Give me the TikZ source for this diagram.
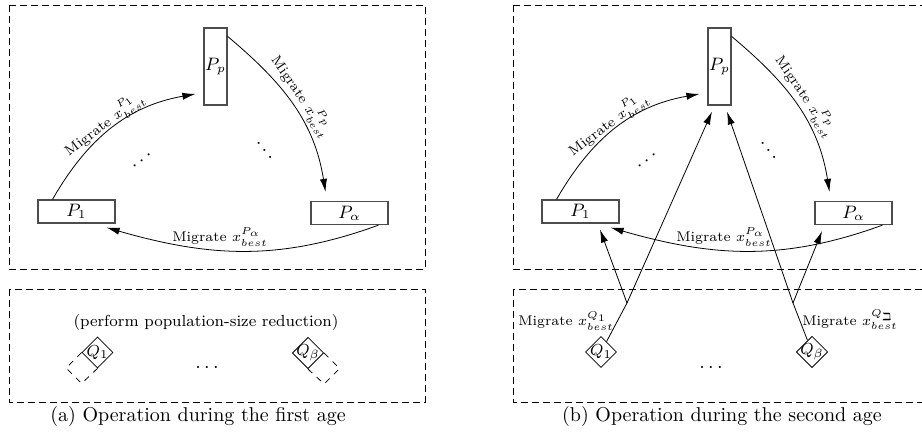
\documentclass[tikz,border=0pt]{standalone}
\usepackage{amssymb}
\usetikzlibrary{arrows.meta, shapes.geometric}

\begin{document}
\begin{tikzpicture}[
    x=0.5pt, y=-0.5pt,
    frame/.style={dash pattern=on 3.5pt off 2pt},
    pbox/.style={draw=black!70, semithick, inner sep=0pt, font=\small},
    hbox/.style={pbox, minimum width=38.5pt, minimum height=11.5pt},
    vbox/.style={pbox, minimum width=11.5pt, minimum height=38.5pt},
    qbox/.style={draw, diamond, aspect=1, minimum size=15.5pt, inner sep=-1pt, font=\footnotesize},
    arr/.style={-{Latex[length=6.5pt, width=3.6pt]}},
    lbl/.style={font=\scriptsize, inner sep=1pt},
  ]
  \useasboundingbox (0,0) rectangle (922,437);
  \clip (0,0) rectangle (922,437);

  % (a) first age
  \draw[frame] (9,5) rectangle (425,269);
  \draw[frame] (9,289) rectangle (425,402);

  \node[vbox] (a-pp) at (215.5,66.5) {$P_p$};
  \node[hbox] (a-p1) at (76.5,211.5) {$P_1$};
  \node[hbox] (a-pa) at (349.5,213) {$P_\alpha$};

  \draw[arr] ([xshift=-12pt]a-p1.north) to[out=60, in=190] ([xshift=-4pt, yshift=-13.75pt]a-pp.west);
  \draw[arr] ([yshift=-4.5pt]a-pp.north east) to[out=-40, in=99] ([xshift=-12pt, yshift=4.5pt]a-pa.north);
  \draw[arr] ([xshift=-5pt]a-pa.south east) to[out=-160, in=-16] ([xshift=-4.5pt, yshift=-2pt]a-p1.south east);

  \node[lbl, rotate=37] (a-l1) at (104,124) {Migrate $x^{P_1}_{best}$};
  \node[lbl, rotate=-56] (a-l2) at (302,96) {Migrate $x^{P_p}_{best}$};
  \node[lbl] (a-l3) at (220,237) {Migrate $x^{P_\alpha}_{best}$};

  \node[rotate=38] (a-dl) at (142,161) {$\cdots$};
  \node[rotate=-50] (a-dr) at (264,151) {$\cdots$};

  \node[font=\footnotesize] (a-red) at (206,323) {(perform population-size reduction)};
  \node[qbox] (a-q1) at (97.5,352.5) {$Q_1$};
  \node[qbox] (a-qb) at (308,353) {$Q_\beta$};
  \draw[dashed] (a-q1.west) -- ++(-15.5,15.5) -- ++(15.5,15.5) -- (a-q1.south);
  \draw[dashed] (a-qb.east) -- ++(15.5,15.5) -- ++(-15.5,15.5) -- (a-qb.south);
  \node (a-dots) at (207,368) {$\cdots$};

  \node (a-cap) at (198,417) {(a) Operation during the first age};

  % (b) second age
  \begin{scope}[xshift=252pt]
    \draw[frame] (9,5) rectangle (425,269);
    \draw[frame] (9,289) rectangle (425,402);

    \node[vbox] (b-pp) at (215.5,66.5) {$P_p$};
    \node[hbox] (b-p1) at (76.5,211.5) {$P_1$};
    \node[hbox] (b-pa) at (349.5,213) {$P_\alpha$};

    \draw[arr] ([xshift=-12pt]b-p1.north) to[out=60, in=190] ([xshift=-4pt, yshift=-13.75pt]b-pp.west);
    \draw[arr] ([yshift=-4.5pt]b-pp.north east) to[out=-40, in=99] ([xshift=-12pt, yshift=4.5pt]b-pa.north);
    \draw[arr] ([xshift=-5pt]b-pa.south east) to[out=-160, in=-16] ([xshift=-4.5pt, yshift=-2pt]b-p1.south east);

    \node[lbl, rotate=37] (b-l1) at (104,124) {Migrate $x^{P_1}_{best}$};
    \node[lbl, rotate=-56] (b-l2) at (302,96) {Migrate $x^{P_p}_{best}$};
    \node[lbl] (b-l3) at (220,237) {Migrate $x^{P_\alpha}_{best}$};

    \node[rotate=38] (b-dl) at (143,161) {$\cdots$};
    \node[rotate=-50] (b-dr) at (264,151) {$\cdots$};

    \node[qbox] (b-q1) at (97,352) {$Q_1$};
    \node[qbox] (b-qb) at (308,352) {$Q_\beta$};
    \coordinate (b-j1) at (123,303);
    \coordinate (b-j2) at (289,303);
    \draw (b-q1) -- (b-j1);
    \draw[arr] (b-j1) -- ([xshift=9.75pt, yshift=-3pt]b-p1.south);
    \draw[arr] (b-j1) -- ([xshift=-3.75pt, yshift=-3pt]b-pp.south);
    \draw (b-qb) -- (b-j2);
    \draw[arr] (b-j2) -- ([xshift=3.75pt, yshift=-3pt]b-pp.south);
    \draw[arr] (b-j2) -- ([xshift=-15.75pt, yshift=-3pt]b-pa.south);

    \node[lbl] (b-lq1) at (62,321) {Migrate $x^{Q_1}_{best}$};
    \node[lbl] (b-lqb) at (346,320) {Migrate $x^{Q_\beth}_{best}$};
    \node (b-dots) at (207,368) {$\cdots$};

    \node (b-cap) at (218,417) {(b) Operation during the second age};
  \end{scope}
\end{tikzpicture}
\end{document}
